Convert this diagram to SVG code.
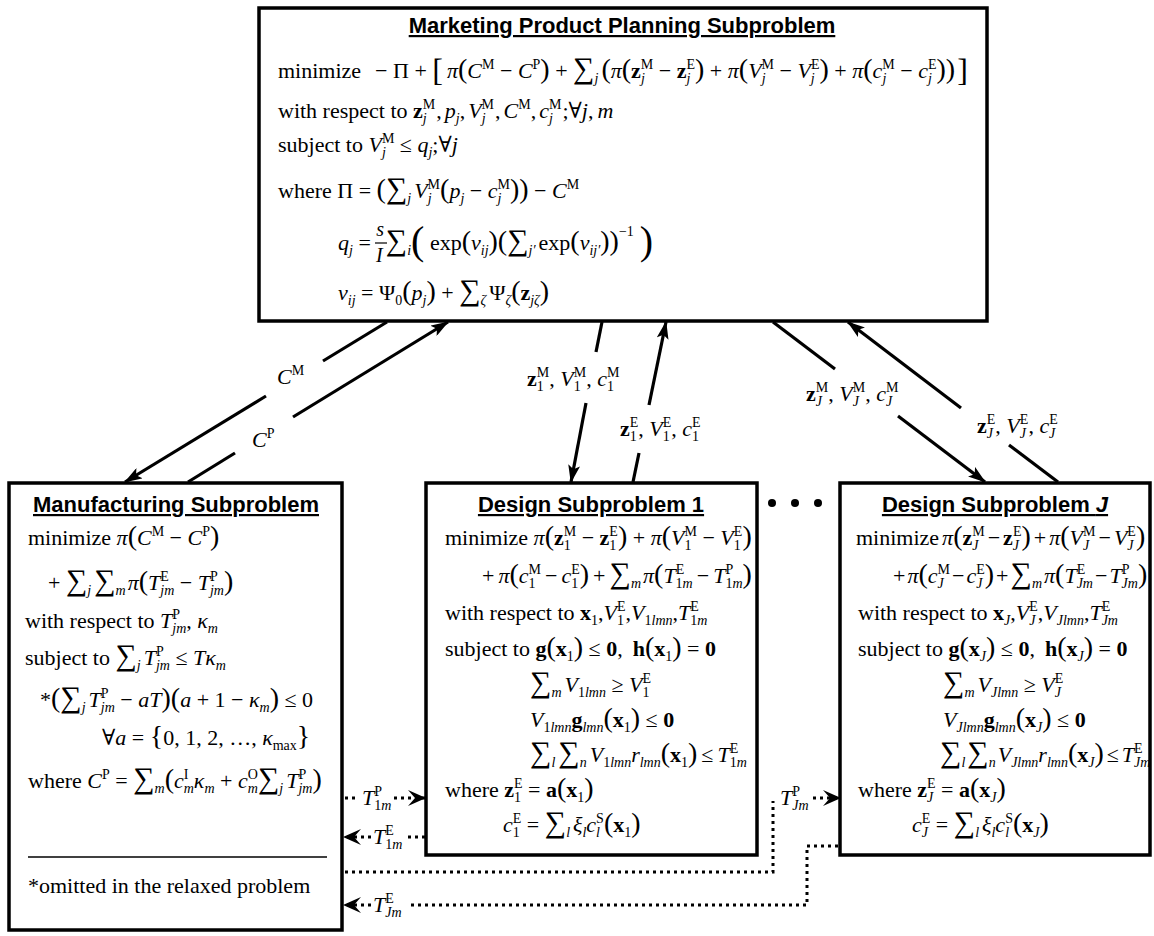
<svg xmlns="http://www.w3.org/2000/svg" width="1154" height="936" viewBox="0 0 1154 936">
<style>
.t{font-family:"Liberation Serif","Times New Roman","DejaVu Serif",serif;font-size:22px;fill:#000}
.i{font-style:italic}
.b{font-weight:bold}
.s{font-size:14px}
.f{font-size:20px}
.p{font-size:28px}
.q{font-size:40px}
.B{font-size:32px}
.S{font-size:30px}
.n1{word-spacing:-1.5px}
.n2{word-spacing:-2.5px}
.n3{word-spacing:-3.5px}
.h{font-family:"Liberation Sans",Arial,sans-serif;font-size:22px;font-weight:bold;text-anchor:middle;text-decoration:underline}
.box{fill:#fff;stroke:#000;stroke-width:3.5}
.ar{stroke:#000;stroke-width:3.2;fill:none}
.dt{stroke:#000;stroke-width:3;fill:none;stroke-dasharray:3 4}
</style>
<defs>
<marker id="ah" markerUnits="userSpaceOnUse" markerWidth="18" markerHeight="12" refX="17" refY="6" orient="auto"><path d="M0,0 L18,6 L0,12 L4,6 Z"/></marker>
<marker id="dh" markerUnits="userSpaceOnUse" markerWidth="18" markerHeight="16" refX="17" refY="8" orient="auto"><path d="M0,0 L18,8 L0,16 L7,8 Z"/></marker>
</defs>
<rect width="1154" height="936" fill="#fff"/>

<g id="marketing">
<rect class="box" x="259" y="8" width="728" height="313"/>
<text class="h" x="622" y="33">Marketing Product Planning Subproblem</text>
<text class="t" x="278" y="78">minimize<tspan dx="14">− Π + </tspan><tspan class="B" dy="3">[</tspan><tspan class="i" dx="4" dy="-3">π</tspan><tspan class="p">(</tspan><tspan class="i">C</tspan><tspan class="s" dy="-9">M</tspan><tspan dy="9"> − </tspan><tspan class="i">C</tspan><tspan class="s" dy="-9">P</tspan><tspan class="p" dy="9">)</tspan> + <tspan class="S">∑</tspan><tspan class="s i" dy="5">j</tspan><tspan class="p" dx="3" dy="-5">(</tspan><tspan class="i">π</tspan><tspan class="p">(</tspan><tspan class="b">z</tspan><tspan class="s" dy="-9">M</tspan><tspan class="s i" dx="-12.4" dy="14">j</tspan><tspan dx="8.5" dy="-5"> − </tspan><tspan class="b">z</tspan><tspan class="s" dy="-9">E</tspan><tspan class="s i" dx="-8.6" dy="14">j</tspan><tspan class="p" dx="4.7" dy="-5">)</tspan> + <tspan class="i">π</tspan><tspan class="p">(</tspan><tspan class="i">V</tspan><tspan class="s" dy="-9">M</tspan><tspan class="s i" dx="-12.4" dy="14">j</tspan><tspan dx="8.5" dy="-5"> − </tspan><tspan class="i">V</tspan><tspan class="s" dy="-9">E</tspan><tspan class="s i" dx="-8.6" dy="14">j</tspan><tspan class="p" dx="4.7" dy="-5">)</tspan> + <tspan class="i">π</tspan><tspan class="p">(</tspan><tspan class="i">c</tspan><tspan class="s" dy="-9">M</tspan><tspan class="s i" dx="-12.4" dy="14">j</tspan><tspan dx="8.5" dy="-5"> − </tspan><tspan class="i">c</tspan><tspan class="s" dy="-9">E</tspan><tspan class="s i" dx="-8.6" dy="14">j</tspan><tspan class="p" dx="4.7" dy="-5">))</tspan><tspan class="B" dx="2" dy="3">]</tspan></text>
<text class="t" x="278" y="118">with respect to <tspan class="b">z</tspan><tspan class="s" dy="-9">M</tspan><tspan class="s i" dx="-12.4" dy="14">j</tspan><tspan dx="9.5" dy="-5">,</tspan><tspan class="i" dx="3">p</tspan><tspan class="s i" dy="5">j</tspan><tspan dy="-5">,</tspan><tspan class="i" dx="3">V</tspan><tspan class="s" dy="-9">M</tspan><tspan class="s i" dx="-12.4" dy="14">j</tspan><tspan dx="9.5" dy="-5">,</tspan><tspan class="i" dx="3">C</tspan><tspan class="s" dy="-9">M</tspan><tspan dy="9">,</tspan><tspan class="i" dx="3">c</tspan><tspan class="s" dy="-9">M</tspan><tspan class="s i" dx="-12.4" dy="14">j</tspan><tspan dx="9.5" dy="-5">;∀</tspan><tspan class="i">j</tspan>,<tspan class="i" dx="4">m</tspan></text>
<text class="t" x="278" y="152">subject to <tspan class="i">V</tspan><tspan class="s" dy="-9">M</tspan><tspan class="s i" dx="-12.4" dy="14">j</tspan><tspan dx="8.5" dy="-5"> ≤ </tspan><tspan class="i">q</tspan><tspan class="s i" dy="5">j</tspan><tspan dy="-5">;∀</tspan><tspan class="i">j</tspan></text>
<text class="t" x="278" y="198">where Π = <tspan class="p">(</tspan><tspan class="S">∑</tspan><tspan class="s i" dy="5">j</tspan><tspan class="i" dx="3" dy="-5">V</tspan><tspan class="s" dy="-9">M</tspan><tspan class="s i" dx="-12.4" dy="14">j</tspan><tspan class="p" dx="8.5" dy="-5">(</tspan><tspan class="i">p</tspan><tspan class="s i" dy="5">j</tspan><tspan dy="-5"> − </tspan><tspan class="i">c</tspan><tspan class="s" dy="-9">M</tspan><tspan class="s i" dx="-12.4" dy="14">j</tspan><tspan class="p" dx="8.5" dy="-5">))</tspan> − <tspan class="i">C</tspan><tspan class="s" dy="-9">M</tspan></text>
<text class="t" x="338" y="250"><tspan class="i">q</tspan><tspan class="s i" dy="5">j</tspan><tspan dy="-5"> = </tspan><tspan class="i f" dy="-14">s</tspan><tspan class="i f" dx="-8" dy="26">I</tspan><tspan class="S" dx="3" dy="-12">∑</tspan><tspan class="s i" dy="5">i</tspan><tspan class="q" dy="-1">(</tspan><tspan dy="-4"> exp</tspan><tspan class="p">(</tspan><tspan class="i">v</tspan><tspan class="s i" dy="5">ij</tspan><tspan class="p" dy="-5">)(</tspan><tspan class="S">∑</tspan><tspan class="s i" dy="5">j′</tspan><tspan dx="3" dy="-5">exp</tspan><tspan class="p">(</tspan><tspan class="i">v</tspan><tspan class="s i" dy="5">ij′</tspan><tspan class="p" dy="-5">))</tspan><tspan class="s" dy="-14">−1</tspan><tspan class="q" dx="6" dy="18">)</tspan></text>
<line x1="375" y1="243" x2="387" y2="243" stroke="#000" stroke-width="1.2"/>
<text class="t" x="338" y="300"><tspan class="i">v</tspan><tspan class="s i" dy="5">ij</tspan><tspan dy="-5"> = Ψ</tspan><tspan class="s" dy="5">0</tspan><tspan class="p" dy="-5">(</tspan><tspan class="i">p</tspan><tspan class="s i" dy="5">j</tspan><tspan class="p" dy="-5">)</tspan> + <tspan class="S">∑</tspan><tspan class="s i" dy="5">ζ</tspan><tspan dx="3" dy="-5">Ψ</tspan><tspan class="s i" dy="5">ζ</tspan><tspan class="p" dy="-5">(</tspan><tspan class="b">z</tspan><tspan class="s i" dy="5">jζ</tspan><tspan class="p" dy="-5">)</tspan></text>
</g>

<g id="manufacturing">
<rect class="box" x="9" y="483" width="333" height="447"/>
<text class="h" x="176" y="512">Manufacturing Subproblem</text>
<text class="t" x="28" y="545">minimize <tspan class="i">π</tspan><tspan class="p">(</tspan><tspan class="i">C</tspan><tspan class="s" dy="-9">M</tspan><tspan dy="9"> − </tspan><tspan class="i">C</tspan><tspan class="s" dy="-9">P</tspan><tspan class="p" dy="9">)</tspan></text>
<text class="t" x="48" y="590">+ <tspan class="S">∑</tspan><tspan class="s i" dy="5">j</tspan><tspan class="S" dx="3" dy="-5">∑</tspan><tspan class="s i" dy="5">m</tspan><tspan class="i" dx="2" dy="-5">π</tspan><tspan class="p">(</tspan><tspan class="i">T</tspan><tspan class="s" dy="-9">E</tspan><tspan class="s i" dx="-8.6" dy="14">jm</tspan><tspan dy="-5"> − </tspan><tspan class="i">T</tspan><tspan class="s" dy="-9">P</tspan><tspan class="s i" dx="-7.8" dy="14">jm</tspan><tspan class="p" dy="-5">)</tspan></text>
<text class="t" x="25" y="628">with respect to <tspan class="i">T</tspan><tspan class="s" dy="-9">P</tspan><tspan class="s i" dx="-7.8" dy="14">jm</tspan><tspan dy="-5">, </tspan><tspan class="i">κ</tspan><tspan class="s i" dy="5">m</tspan></text>
<text class="t" x="25" y="665">subject to <tspan class="S">∑</tspan><tspan class="s i" dy="5">j</tspan><tspan class="i" dx="3" dy="-5">T</tspan><tspan class="s" dy="-9">P</tspan><tspan class="s i" dx="-7.8" dy="14">jm</tspan><tspan dy="-5"> ≤ </tspan><tspan class="i">Tκ</tspan><tspan class="s i" dy="5">m</tspan></text>
<text class="t" x="40" y="707">*<tspan class="p">(</tspan><tspan class="S">∑</tspan><tspan class="s i" dy="5">j</tspan><tspan class="i" dx="3" dy="-5">T</tspan><tspan class="s" dy="-9">P</tspan><tspan class="s i" dx="-7.8" dy="14">jm</tspan><tspan dy="-5"> − </tspan><tspan class="i">aT</tspan><tspan class="p">)(</tspan><tspan class="i">a</tspan> + 1 − <tspan class="i">κ</tspan><tspan class="s i" dy="5">m</tspan><tspan class="p" dy="-5">)</tspan> ≤ 0</text>
<text class="t" x="102" y="745">∀<tspan class="i">a</tspan> = <tspan class="p">{</tspan>0, 1, 2, …, <tspan class="i">κ</tspan><tspan class="s" dy="5">max</tspan><tspan class="p" dy="-5">}</tspan></text>
<text class="t" x="28" y="788">where <tspan class="i">C</tspan><tspan class="s" dy="-9">P</tspan><tspan dy="9"> = </tspan><tspan class="S">∑</tspan><tspan class="s i" dy="5">m</tspan><tspan class="p" dy="-5">(</tspan><tspan class="i">c</tspan><tspan class="s" dy="-9">I</tspan><tspan class="s i" dx="-4.7" dy="14">m</tspan><tspan class="i" dy="-5">κ</tspan><tspan class="s i" dy="5">m</tspan><tspan dy="-5"> + </tspan><tspan class="i">c</tspan><tspan class="s" dy="-9">O</tspan><tspan class="s i" dx="-10.1" dy="14">m</tspan><tspan class="S" dy="-5">∑</tspan><tspan class="s i" dy="5">j</tspan><tspan class="i" dx="3" dy="-5">T</tspan><tspan class="s" dy="-9">P</tspan><tspan class="s i" dx="-7.8" dy="14">jm</tspan><tspan class="p" dy="-5">)</tspan></text>
<line x1="28" y1="857" x2="327" y2="857" stroke="#000" stroke-width="1.5"/>
<text class="t" x="28" y="893">*omitted in the relaxed problem</text>
</g>

<g id="design1">
<rect class="box" x="426" y="483" width="331" height="372"/>
<text class="h" x="591" y="512">Design Subproblem 1</text>
<text class="t" x="445" y="545">minimize <tspan class="i">π</tspan><tspan class="p">(</tspan><tspan class="b">z</tspan><tspan class="s" dy="-9">M</tspan><tspan class="s" dx="-12.4" dy="14">1</tspan><tspan dx="5.4" dy="-5"> − </tspan><tspan class="b">z</tspan><tspan class="s" dy="-9">E</tspan><tspan class="s" dx="-8.6" dy="14">1</tspan><tspan class="p" dx="1.6" dy="-5">)</tspan> + <tspan class="i">π</tspan><tspan class="p">(</tspan><tspan class="i">V</tspan><tspan class="s" dy="-9">M</tspan><tspan class="s" dx="-12.4" dy="14">1</tspan><tspan dx="5.4" dy="-5"> − </tspan><tspan class="i">V</tspan><tspan class="s" dy="-9">E</tspan><tspan class="s" dx="-8.6" dy="14">1</tspan><tspan class="p" dx="1.6" dy="-5">)</tspan></text>
<text class="t n1" x="482" y="583">+ <tspan class="i">π</tspan><tspan class="p">(</tspan><tspan class="i">c</tspan><tspan class="s" dy="-9">M</tspan><tspan class="s" dx="-12.4" dy="14">1</tspan><tspan dx="5.4" dy="-5"> − </tspan><tspan class="i">c</tspan><tspan class="s" dy="-9">E</tspan><tspan class="s" dx="-8.6" dy="14">1</tspan><tspan class="p" dx="1.6" dy="-5">)</tspan> + <tspan class="S">∑</tspan><tspan class="s i" dy="5">m</tspan><tspan class="i" dx="2" dy="-5">π</tspan><tspan class="p">(</tspan><tspan class="i">T</tspan><tspan class="s" dy="-9">E</tspan><tspan class="s" dx="-8.6" dy="14">1<tspan class="i">m</tspan></tspan><tspan dy="-5"> − </tspan><tspan class="i">T</tspan><tspan class="s" dy="-9">P</tspan><tspan class="s" dx="-7.8" dy="14">1<tspan class="i">m</tspan></tspan><tspan class="p" dy="-5">)</tspan></text>
<text class="t" x="445" y="620">with respect to <tspan class="b">x</tspan><tspan class="s" dy="5">1</tspan><tspan dy="-5">,</tspan><tspan class="i">V</tspan><tspan class="s" dy="-9">E</tspan><tspan class="s" dx="-8.6" dy="14">1</tspan><tspan dx="1.6" dy="-5">,</tspan><tspan class="i">V</tspan><tspan class="s" dy="5">1<tspan class="i">lmn</tspan></tspan><tspan dy="-5">,</tspan><tspan class="i">T</tspan><tspan class="s" dy="-9">E</tspan><tspan class="s" dx="-8.6" dy="14">1<tspan class="i">m</tspan></tspan></text>
<text class="t" x="445" y="656">subject to <tspan class="b">g</tspan><tspan class="p">(</tspan><tspan class="b">x</tspan><tspan class="s" dy="5">1</tspan><tspan class="p" dy="-5">)</tspan> ≤ <tspan class="b">0</tspan>,<tspan class="b" dx="10">h</tspan><tspan class="p">(</tspan><tspan class="b">x</tspan><tspan class="s" dy="5">1</tspan><tspan class="p" dy="-5">)</tspan> = <tspan class="b">0</tspan></text>
<text class="t" x="530" y="692"><tspan class="S">∑</tspan><tspan class="s i" dy="5">m</tspan><tspan class="i" dx="3" dy="-5">V</tspan><tspan class="s" dy="5">1<tspan class="i">lmn</tspan></tspan><tspan dy="-5"> ≥ </tspan><tspan class="i">V</tspan><tspan class="s" dy="-9">E</tspan><tspan class="s" dx="-8.6" dy="14">1</tspan></text>
<text class="t" x="530" y="727"><tspan class="i">V</tspan><tspan class="s" dy="5">1<tspan class="i">lmn</tspan></tspan><tspan class="b" dy="-5">g</tspan><tspan class="s i" dy="5">lmn</tspan><tspan class="p" dy="-5">(</tspan><tspan class="b">x</tspan><tspan class="s" dy="5">1</tspan><tspan class="p" dy="-5">)</tspan> ≤ <tspan class="b">0</tspan></text>
<text class="t n1" x="530" y="762"><tspan class="S">∑</tspan><tspan class="s i" dy="5">l</tspan><tspan class="S" dx="3" dy="-5">∑</tspan><tspan class="s i" dy="5">n</tspan><tspan class="i" dx="3" dy="-5">V</tspan><tspan class="s" dy="5">1<tspan class="i">lmn</tspan></tspan><tspan class="i" dy="-5">r</tspan><tspan class="s i" dy="5">lmn</tspan><tspan class="p" dy="-5">(</tspan><tspan class="b">x</tspan><tspan class="s" dy="5">1</tspan><tspan class="p" dy="-5">)</tspan> ≤ <tspan class="i">T</tspan><tspan class="s" dy="-9">E</tspan><tspan class="s" dx="-8.6" dy="14">1<tspan class="i">m</tspan></tspan></text>
<text class="t" x="445" y="797">where <tspan class="b">z</tspan><tspan class="s" dy="-9">E</tspan><tspan class="s" dx="-8.6" dy="14">1</tspan><tspan dx="1.6" dy="-5"> = </tspan><tspan class="b">a</tspan><tspan class="p">(</tspan><tspan class="b">x</tspan><tspan class="s" dy="5">1</tspan><tspan class="p" dy="-5">)</tspan></text>
<text class="t" x="503" y="832"><tspan class="i">c</tspan><tspan class="s" dy="-9">E</tspan><tspan class="s" dx="-8.6" dy="14">1</tspan><tspan dx="1.6" dy="-5"> = </tspan><tspan class="S">∑</tspan><tspan class="s i" dy="5">l</tspan><tspan class="i" dx="3" dy="-5">ξ</tspan><tspan class="s i" dy="5">l</tspan><tspan class="i" dy="-5">c</tspan><tspan class="s" dy="-9">S</tspan><tspan class="s i" dx="-7.8" dy="14">l</tspan><tspan class="p" dx="3.9" dy="-5">(</tspan><tspan class="b">x</tspan><tspan class="s" dy="5">1</tspan><tspan class="p" dy="-5">)</tspan></text>
</g>

<g id="designJ">
<rect class="box" x="840" y="483" width="310" height="372"/>
<text class="h" x="995" y="512">Design Subproblem <tspan font-style="italic">J</tspan></text>
<text class="t n2" x="856" y="545">minimize <tspan class="i">π</tspan><tspan class="p">(</tspan><tspan class="b">z</tspan><tspan class="s" dy="-9">M</tspan><tspan class="s i" dx="-12.4" dy="14">J</tspan><tspan dx="6.2" dy="-5"> − </tspan><tspan class="b">z</tspan><tspan class="s" dy="-9">E</tspan><tspan class="s i" dx="-8.6" dy="14">J</tspan><tspan class="p" dx="2.4" dy="-5">)</tspan> + <tspan class="i">π</tspan><tspan class="p">(</tspan><tspan class="i">V</tspan><tspan class="s" dy="-9">M</tspan><tspan class="s i" dx="-12.4" dy="14">J</tspan><tspan dx="6.2" dy="-5"> − </tspan><tspan class="i">V</tspan><tspan class="s" dy="-9">E</tspan><tspan class="s i" dx="-8.6" dy="14">J</tspan><tspan class="p" dx="2.4" dy="-5">)</tspan></text>
<text class="t n3" x="893" y="583">+ <tspan class="i">π</tspan><tspan class="p">(</tspan><tspan class="i">c</tspan><tspan class="s" dy="-9">M</tspan><tspan class="s i" dx="-12.4" dy="14">J</tspan><tspan dx="6.2" dy="-5"> − </tspan><tspan class="i">c</tspan><tspan class="s" dy="-9">E</tspan><tspan class="s i" dx="-8.6" dy="14">J</tspan><tspan class="p" dx="2.4" dy="-5">)</tspan> + <tspan class="S">∑</tspan><tspan class="s i" dy="5">m</tspan><tspan class="i" dx="2" dy="-5">π</tspan><tspan class="p">(</tspan><tspan class="i">T</tspan><tspan class="s" dy="-9">E</tspan><tspan class="s i" dx="-8.6" dy="14">Jm</tspan><tspan dy="-5"> − </tspan><tspan class="i">T</tspan><tspan class="s" dy="-9">P</tspan><tspan class="s i" dx="-7.8" dy="14">Jm</tspan><tspan class="p" dy="-5">)</tspan></text>
<text class="t" x="858" y="620">with respect to <tspan class="b">x</tspan><tspan class="s i" dy="5">J</tspan><tspan dy="-5">,</tspan><tspan class="i">V</tspan><tspan class="s" dy="-9">E</tspan><tspan class="s i" dx="-8.6" dy="14">J</tspan><tspan dx="2.4" dy="-5">,</tspan><tspan class="i">V</tspan><tspan class="s i" dy="5">Jlmn</tspan><tspan dy="-5">,</tspan><tspan class="i">T</tspan><tspan class="s" dy="-9">E</tspan><tspan class="s i" dx="-8.6" dy="14">Jm</tspan></text>
<text class="t" x="858" y="656">subject to <tspan class="b">g</tspan><tspan class="p">(</tspan><tspan class="b">x</tspan><tspan class="s i" dy="5">J</tspan><tspan class="p" dy="-5">)</tspan> ≤ <tspan class="b">0</tspan>,<tspan class="b" dx="10">h</tspan><tspan class="p">(</tspan><tspan class="b">x</tspan><tspan class="s i" dy="5">J</tspan><tspan class="p" dy="-5">)</tspan> = <tspan class="b">0</tspan></text>
<text class="t" x="943" y="692"><tspan class="S">∑</tspan><tspan class="s i" dy="5">m</tspan><tspan class="i" dx="3" dy="-5">V</tspan><tspan class="s i" dy="5">Jlmn</tspan><tspan dy="-5"> ≥ </tspan><tspan class="i">V</tspan><tspan class="s" dy="-9">E</tspan><tspan class="s i" dx="-8.6" dy="14">J</tspan></text>
<text class="t" x="943" y="727"><tspan class="i">V</tspan><tspan class="s i" dy="5">Jlmn</tspan><tspan class="b" dy="-5">g</tspan><tspan class="s i" dy="5">lmn</tspan><tspan class="p" dy="-5">(</tspan><tspan class="b">x</tspan><tspan class="s i" dy="5">J</tspan><tspan class="p" dy="-5">)</tspan> ≤ <tspan class="b">0</tspan></text>
<text class="t n2" x="940" y="762"><tspan class="S">∑</tspan><tspan class="s i" dy="5">l</tspan><tspan class="S" dx="2" dy="-5">∑</tspan><tspan class="s i" dy="5">n</tspan><tspan class="i" dx="2" dy="-5">V</tspan><tspan class="s i" dy="5">Jlmn</tspan><tspan class="i" dy="-5">r</tspan><tspan class="s i" dy="5">lmn</tspan><tspan class="p" dy="-5">(</tspan><tspan class="b">x</tspan><tspan class="s i" dy="5">J</tspan><tspan class="p" dy="-5">)</tspan> ≤ <tspan class="i">T</tspan><tspan class="s" dy="-9">E</tspan><tspan class="s i" dx="-8.6" dy="14">Jm</tspan></text>
<text class="t" x="858" y="797">where <tspan class="b">z</tspan><tspan class="s" dy="-9">E</tspan><tspan class="s i" dx="-8.6" dy="14">J</tspan><tspan dx="2.4" dy="-5"> = </tspan><tspan class="b">a</tspan><tspan class="p">(</tspan><tspan class="b">x</tspan><tspan class="s i" dy="5">J</tspan><tspan class="p" dy="-5">)</tspan></text>
<text class="t" x="912" y="832"><tspan class="i">c</tspan><tspan class="s" dy="-9">E</tspan><tspan class="s i" dx="-8.6" dy="14">J</tspan><tspan dx="2.4" dy="-5"> = </tspan><tspan class="S">∑</tspan><tspan class="s i" dy="5">l</tspan><tspan class="i" dx="3" dy="-5">ξ</tspan><tspan class="s i" dy="5">l</tspan><tspan class="i" dy="-5">c</tspan><tspan class="s" dy="-9">S</tspan><tspan class="s i" dx="-7.8" dy="14">l</tspan><tspan class="p" dx="3.9" dy="-5">(</tspan><tspan class="b">x</tspan><tspan class="s i" dy="5">J</tspan><tspan class="p" dy="-5">)</tspan></text>
</g>

<g id="ellipsis">
<circle cx="772" cy="503" r="4"/><circle cx="795" cy="503" r="4"/><circle cx="818" cy="503" r="4"/>
</g>

<g id="connectors">
<path class="ar" d="M387,322 L323,361"/>
<path class="ar" d="M266,396 L125,482" marker-end="url(#ah)"/>
<path class="ar" d="M188,482 L235,453"/>
<path class="ar" d="M293,417 L448,322" marker-end="url(#ah)"/>
<path class="ar" d="M602,322 L596,352"/>
<path class="ar" d="M586,403 L571,482" marker-end="url(#ah)"/>
<path class="ar" d="M633,482 L639,453"/>
<path class="ar" d="M649,405 L666,322" marker-end="url(#ah)"/>
<path class="ar" d="M773,322 L835,369"/>
<path class="ar" d="M898,416 L985,482" marker-end="url(#ah)"/>
<path class="ar" d="M1058,482 L1009,445"/>
<path class="ar" d="M961,408 L848,322" marker-end="url(#ah)"/>
<text class="t" x="277" y="384"><tspan class="i">C</tspan><tspan class="s" dy="-9">M</tspan></text>
<text class="t" x="252" y="447"><tspan class="i">C</tspan><tspan class="s" dy="-9">P</tspan></text>
<text class="t" x="527" y="386"><tspan class="b">z</tspan><tspan class="s" dy="-9">M</tspan><tspan class="s" dx="-12.4" dy="14">1</tspan><tspan dx="5.4" dy="-5">, </tspan><tspan class="i">V</tspan><tspan class="s" dy="-9">M</tspan><tspan class="s" dx="-12.4" dy="14">1</tspan><tspan dx="5.4" dy="-5">, </tspan><tspan class="i">c</tspan><tspan class="s" dy="-9">M</tspan><tspan class="s" dx="-12.4" dy="14">1</tspan></text>
<text class="t" x="620" y="436"><tspan class="b">z</tspan><tspan class="s" dy="-9">E</tspan><tspan class="s" dx="-8.6" dy="14">1</tspan><tspan dx="1.6" dy="-5">, </tspan><tspan class="i">V</tspan><tspan class="s" dy="-9">E</tspan><tspan class="s" dx="-8.6" dy="14">1</tspan><tspan dx="1.6" dy="-5">, </tspan><tspan class="i">c</tspan><tspan class="s" dy="-9">E</tspan><tspan class="s" dx="-8.6" dy="14">1</tspan></text>
<text class="t" x="806" y="401"><tspan class="b">z</tspan><tspan class="s" dy="-9">M</tspan><tspan class="s i" dx="-12.4" dy="14">J</tspan><tspan dx="6.2" dy="-5">, </tspan><tspan class="i">V</tspan><tspan class="s" dy="-9">M</tspan><tspan class="s i" dx="-12.4" dy="14">J</tspan><tspan dx="6.2" dy="-5">, </tspan><tspan class="i">c</tspan><tspan class="s" dy="-9">M</tspan><tspan class="s i" dx="-12.4" dy="14">J</tspan></text>
<text class="t" x="977" y="433"><tspan class="b">z</tspan><tspan class="s" dy="-9">E</tspan><tspan class="s i" dx="-8.6" dy="14">J</tspan><tspan dx="2.4" dy="-5">, </tspan><tspan class="i">V</tspan><tspan class="s" dy="-9">E</tspan><tspan class="s i" dx="-8.6" dy="14">J</tspan><tspan dx="2.4" dy="-5">, </tspan><tspan class="i">c</tspan><tspan class="s" dy="-9">E</tspan><tspan class="s i" dx="-8.6" dy="14">J</tspan></text>
<path class="dt" d="M345,798 H359"/>
<path class="dt" d="M394,798 H425" marker-end="url(#dh)"/>
<text class="t" x="362" y="805"><tspan class="i">T</tspan><tspan class="s" dy="-9">P</tspan><tspan class="s" dx="-7.8" dy="14">1<tspan class="i">m</tspan></tspan></text>
<path class="dt" d="M425,837 H407"/>
<path class="dt" d="M371,837 H344" marker-end="url(#dh)"/>
<text class="t" x="373" y="844"><tspan class="i">T</tspan><tspan class="s" dy="-9">E</tspan><tspan class="s" dx="-8.6" dy="14">1<tspan class="i">m</tspan></tspan></text>
<path class="dt" d="M345,872 H773 V801"/>
<path class="dt" d="M813,798 H840" marker-end="url(#dh)"/>
<text class="t" x="780" y="805"><tspan class="i">T</tspan><tspan class="s" dy="-9">P</tspan><tspan class="s i" dx="-7.8" dy="14">Jm</tspan></text>
<path class="dt" d="M838,846 H807 V905 H407"/>
<path class="dt" d="M371,905 H344" marker-end="url(#dh)"/>
<text class="t" x="373" y="912"><tspan class="i">T</tspan><tspan class="s" dy="-9">E</tspan><tspan class="s i" dx="-8.6" dy="14">Jm</tspan></text>
</g>
</svg>
